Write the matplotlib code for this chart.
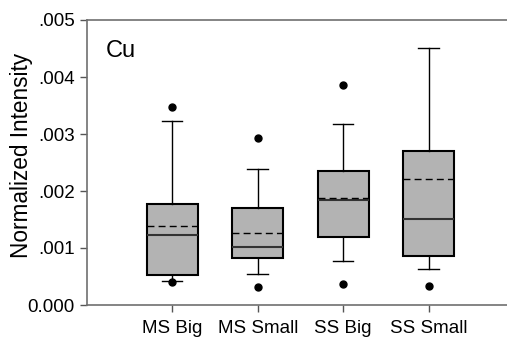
import matplotlib
matplotlib.use("Agg")
import matplotlib.pyplot as plt

plt.rcParams["font.family"] = ["Liberation Sans", "DejaVu Sans"]

groups = ["MS Big", "MS Small", "SS Big", "SS Small"]
whisker_low = [0.000425, 0.000537, 0.000764, 0.000624]
q1 = [0.000530, 0.000816, 0.001194, 0.000862]
medians = [0.001236, 0.001020, 0.001840, 0.001509]
means = [0.001393, 0.001270, 0.001870, 0.002208]
q3 = [0.001766, 0.001696, 0.002355, 0.002705]
whisker_high = [0.003234, 0.002390, 0.003177, 0.004516]
outliers = [
    [0.000407, 0.003467],
    [0.000310, 0.002937],
    [0.000362, 0.003858],
    [0.000337],
]

stats = []
for i in range(len(groups)):
    stats.append({
        "label": groups[i],
        "whislo": whisker_low[i],
        "q1": q1[i],
        "med": medians[i],
        "mean": means[i],
        "q3": q3[i],
        "whishi": whisker_high[i],
        "fliers": outliers[i],
    })

fig = plt.figure(figsize=(5.07, 3.37), dpi=100)
W, H = 507, 337
ax = fig.add_axes([86.7 / W, 1 - 305 / H, (507 - 86.7) / W, (305 - 20) / H])

ax.bxp(
    stats,
    positions=[1, 2, 3, 4],
    widths=0.6,
    patch_artist=True,
    showmeans=True,
    meanline=True,
    capwidths=0.24,
    boxprops=dict(facecolor="#b3b3b3", edgecolor="black", linewidth=1.5),
    medianprops=dict(color="#333333", linewidth=1.5),
    meanprops=dict(color="black", linestyle=(0, (5, 3)), linewidth=1),
    whiskerprops=dict(color="black", linewidth=1),
    capprops=dict(color="black", linewidth=1),
    flierprops=dict(marker="o", markerfacecolor="black", markeredgecolor="black", markersize=5),
)

ax.set_xlim(0, 420.3 / 85.5)
ax.set_ylim(0, 0.005)
ax.set_yticks([0, 0.001, 0.002, 0.003, 0.004, 0.005])
ax.set_yticklabels(["0.000", ".001", ".002", ".003", ".004", ".005"])
ax.set_xticks([1, 2, 3, 4])
ax.set_xticklabels(groups)

for side in ["left", "top", "bottom"]:
    ax.spines[side].set_color("#707070")
    ax.spines[side].set_linewidth(1.2)
ax.spines["right"].set_visible(False)

ax.tick_params(axis="both", colors="#555555", labelcolor="black", labelsize=13.5,
               direction="out", length=5, width=1)
ax.tick_params(axis="x", pad=6)

ax.set_ylabel("Normalized Intensity", fontsize=16.3)
ax.yaxis.set_label_coords(-0.127, 0.526)
ax.text(0.045, 0.93, "Cu", transform=ax.transAxes, fontsize=17, va="top", ha="left")

plt.savefig("out.png", dpi=100)
